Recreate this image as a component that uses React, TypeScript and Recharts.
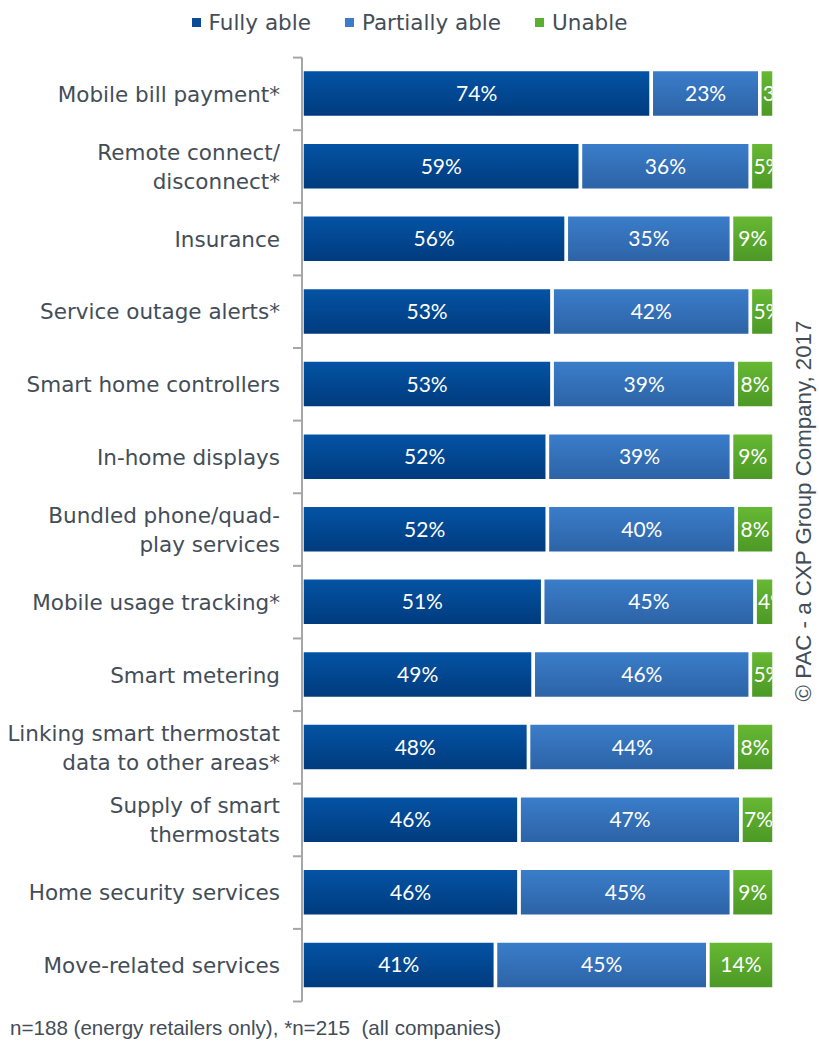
import React from "react";
import { BarChart, Bar, XAxis, YAxis, LabelList } from "recharts";

const CATEGORIES = [
  "Mobile bill payment*",
  "Remote connect/\ndisconnect*",
  "Insurance",
  "Service outage alerts*",
  "Smart home controllers",
  "In-home displays",
  "Bundled phone/quad-\nplay services",
  "Mobile usage tracking*",
  "Smart metering",
  "Linking smart thermostat\ndata to other areas*",
  "Supply of smart\nthermostats",
  "Home security services",
  "Move-related services",
];
const FULLY = [74, 59, 56, 53, 53, 52, 52, 51, 49, 48, 46, 46, 41];
const PARTIALLY = [23, 36, 35, 42, 39, 39, 40, 45, 46, 44, 47, 45, 45];
const UNABLE = [3, 5, 9, 5, 8, 9, 8, 4, 5, 8, 7, 9, 14];

const SERIES = [
  { key: "fully", name: "Fully able", swatch: "#0a4c97", top: "#0454a6", bottom: "#003a7c" },
  { key: "partially", name: "Partially able", swatch: "#3d7cc9", top: "#3b7ecb", bottom: "#2c62a5" },
  { key: "unable", name: "Unable", swatch: "#5cae2e", top: "#68b934", bottom: "#4b9825" },
];

const data = CATEGORIES.map((name, i) => ({
  name,
  fully: FULLY[i],
  partially: PARTIALLY[i],
  unable: UNABLE[i],
}));

const W = 819;
const H = 1044;
const MARGIN = { top: 57.6, right: 45, bottom: 42.5, left: 0 };
const BAND = (H - MARGIN.top - MARGIN.bottom) / CATEGORIES.length;
const TEXT = "#434d58";
const AXIS = "#a6a6a6";
const CAT_FONT = "'DejaVu Sans', sans-serif";
const VALUE_FONT = "Lato, 'Open Sans', sans-serif";
const VALUE_FS = 21;
const ARIAL = "'Liberation Sans', Arial, sans-serif";

const CategoryTick = (props: any) => {
  const { x, y, payload, index } = props;
  const lines = String(payload.value).split("\n");
  const lh = 29;
  return (
    <g>
      <line x1={x - 9} x2={x} y1={y + BAND / 2} y2={y + BAND / 2} stroke={AXIS} strokeWidth={2} />
      {index === 0 && (
        <line x1={x - 9} x2={x} y1={y - BAND / 2} y2={y - BAND / 2} stroke={AXIS} strokeWidth={2} />
      )}
      <text x={x - 22} y={y} textAnchor="end" fill={TEXT} fontSize={21.5} fontFamily={CAT_FONT}>
        {lines.map((l, i) => (
          <tspan key={i} x={x - 22} y={y + (i - (lines.length - 1) / 2) * lh} dy="0.36em">
            {l}
          </tspan>
        ))}
      </text>
    </g>
  );
};

let clipId = 0;
const ValueLabel = (props: any) => {
  const { x, y, width, height, value } = props;
  const txt = `${value}%`;
  const est = (String(value).length * 0.58 + 0.82) * VALUE_FS;
  const cy = y + height / 2;
  if (est + 6 <= width) {
    return (
      <text x={x + width / 2} y={cy} dy="0.36em" textAnchor="middle" fill="#fff" fontSize={VALUE_FS} fontFamily={VALUE_FONT}>
        {txt}
      </text>
    );
  }
  const id = `vclip-${clipId++}`;
  return (
    <g>
      <defs>
        <clipPath id={id}>
          <rect x={x + 1.75} y={y} width={Math.max(0, width - 3.5)} height={height} />
        </clipPath>
      </defs>
      <text x={x + 3} y={cy} dy="0.36em" textAnchor="start" fill="#fff" fontSize={VALUE_FS} fontFamily={VALUE_FONT} clipPath={`url(#${id})`}>
        {txt}
      </text>
    </g>
  );
};

export default function App() {
  clipId = 0;
  return (
    <div style={{ position: "absolute", left: 0, top: 0, width: W, height: H, background: "#fff" }}>
      <div
        style={{
          position: "absolute",
          top: 7,
          left: 0,
          width: W,
          height: 30,
          display: "flex",
          justifyContent: "center",
          alignItems: "center",
          gap: 34,
          fontFamily: CAT_FONT,
          fontSize: 21.5,
          color: TEXT,
        }}
      >
        {SERIES.map((s) => (
          <div key={s.key} style={{ display: "flex", alignItems: "center" }}>
            <span style={{ width: 9, height: 9, background: s.swatch, marginRight: 8, display: "inline-block" }} />
            <span>{s.name}</span>
          </div>
        ))}
      </div>
      <BarChart width={W} height={H} data={data} layout="vertical" margin={MARGIN}>
        <defs>
          {SERIES.map((s) => (
            <linearGradient key={s.key} id={`grad-${s.key}`} x1="0" y1="0" x2="0" y2="1">
              <stop offset="0%" stopColor={s.top} />
              <stop offset="100%" stopColor={s.bottom} />
            </linearGradient>
          ))}
        </defs>
        <XAxis type="number" domain={[0, 100]} hide />
        <YAxis
          type="category"
          dataKey="name"
          width={302}
          axisLine={{ stroke: AXIS, strokeWidth: 2 }}
          tickLine={false}
          tickSize={0}
          tickMargin={0}
          interval={0}
          tick={<CategoryTick />}
        />
        {SERIES.map((s) => (
          <Bar
            key={s.key}
            dataKey={s.key}
            name={s.name}
            stackId="a"
            fill={`url(#grad-${s.key})`}
            stroke="#fff"
            strokeWidth={3.5}
            barSize={48}
            isAnimationActive={false}
          >
            <LabelList dataKey={s.key} content={<ValueLabel />} />
          </Bar>
        ))}
      </BarChart>
      <svg width={W} height={H} style={{ position: "absolute", left: 0, top: 0, pointerEvents: "none" }}>
        <text x={10} y={1035} fill={TEXT} fontSize={20.6} fontFamily={ARIAL} style={{ whiteSpace: "pre" }}>
          {"n=188 (energy retailers only), *n=215  (all companies)"}
        </text>
        <text
          x={0}
          y={0}
          transform="translate(811, 511) rotate(-90)"
          textAnchor="middle"
          fill={TEXT}
          fontSize={22.3}
          fontFamily={ARIAL}
        >
          © PAC - a CXP Group Company, 2017
        </text>
      </svg>
    </div>
  );
}
